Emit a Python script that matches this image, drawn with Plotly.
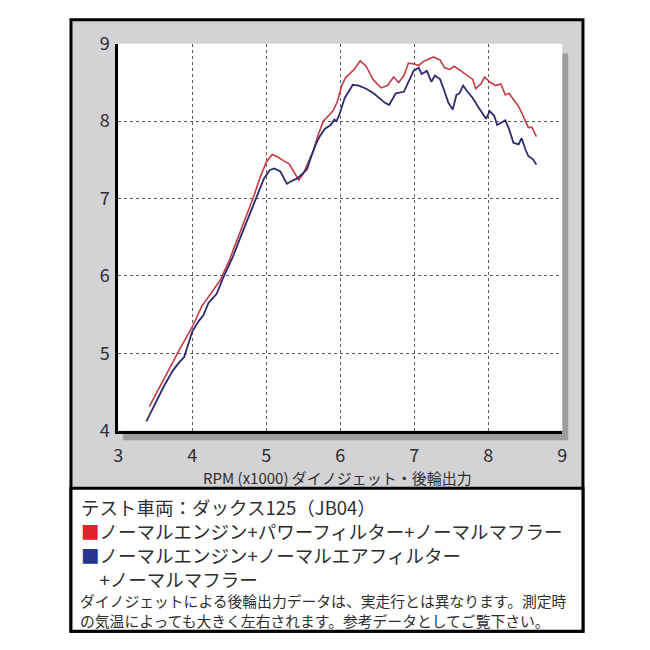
import plotly.graph_objects as go

# Dynojet rear-wheel output (PS) vs RPM (x1000)
red_rpm = [3.42, 3.55, 3.68, 3.80, 3.90, 4.00, 4.13, 4.25, 4.375, 4.50, 4.65, 4.82, 4.92, 5.00,
           5.08, 5.15, 5.23, 5.31, 5.37, 5.44, 5.50, 5.59, 5.64, 5.70, 5.77, 5.84, 5.90, 5.96,
           6.02, 6.07, 6.13, 6.19, 6.27, 6.35, 6.44, 6.55, 6.64, 6.72, 6.79, 6.86, 6.92, 7.00,
           7.06, 7.12, 7.17, 7.26, 7.35, 7.41, 7.48, 7.54, 7.63, 7.72, 7.79, 7.83, 7.90, 7.95,
           8.03, 8.10, 8.17, 8.23, 8.28, 8.34, 8.41, 8.45, 8.50, 8.54, 8.59, 8.65]
red_power = [4.31, 4.55, 4.78, 5.00, 5.17, 5.34, 5.61, 5.78, 5.94, 6.20, 6.57, 7.00, 7.28, 7.47,
             7.57, 7.54, 7.49, 7.45, 7.35, 7.24, 7.32, 7.51, 7.63, 7.82, 8.00, 8.07, 8.13, 8.25,
             8.46, 8.56, 8.61, 8.67, 8.78, 8.71, 8.54, 8.43, 8.46, 8.57, 8.50, 8.59, 8.75, 8.74,
             8.72, 8.77, 8.79, 8.83, 8.79, 8.69, 8.67, 8.71, 8.65, 8.59, 8.54, 8.42, 8.48, 8.57,
             8.50, 8.46, 8.48, 8.34, 8.36, 8.28, 8.19, 8.11, 7.99, 7.92, 7.92, 7.80]

blue_rpm = [3.38, 3.50, 3.62, 3.74, 3.82, 3.89, 4.00, 4.09, 4.15, 4.22, 4.33, 4.42, 4.55, 4.66,
            4.76, 4.86, 4.97, 5.05, 5.11, 5.19, 5.28, 5.33, 5.42, 5.50, 5.55, 5.60, 5.66, 5.72,
            5.79, 5.87, 5.92, 5.95, 5.99, 6.06, 6.17, 6.25, 6.35, 6.45, 6.53, 6.60, 6.66, 6.70,
            6.75, 6.86, 6.92, 6.99, 7.06, 7.10, 7.17, 7.23, 7.28, 7.35, 7.41, 7.46, 7.52, 7.57,
            7.61, 7.66, 7.72, 7.79, 7.86, 7.92, 7.97, 8.02, 8.08, 8.12, 8.19, 8.23, 8.28, 8.34,
            8.41, 8.45, 8.50, 8.54, 8.60, 8.65]
blue_power = [4.12, 4.35, 4.58, 4.78, 4.88, 4.95, 5.28, 5.42, 5.49, 5.65, 5.77, 5.98, 6.25, 6.52,
              6.76, 7.00, 7.26, 7.37, 7.39, 7.35, 7.19, 7.22, 7.26, 7.33, 7.38, 7.52, 7.68, 7.80,
              7.90, 7.95, 8.02, 8.00, 8.09, 8.30, 8.47, 8.46, 8.42, 8.36, 8.30, 8.24, 8.21, 8.28,
              8.36, 8.38, 8.50, 8.65, 8.69, 8.61, 8.65, 8.51, 8.59, 8.54, 8.38, 8.24, 8.15, 8.34,
              8.36, 8.46, 8.38, 8.30, 8.19, 8.11, 8.03, 8.13, 8.07, 7.95, 7.99, 8.01, 7.90, 7.72,
              7.70, 7.78, 7.64, 7.55, 7.51, 7.44]

x_ticks = [3, 4, 5, 6, 7, 8, 9]
y_ticks = [4, 5, 6, 7, 8, 9]

x_title = 'RPM (x1000) ダイノジェット・後輪出力'
vehicle = 'テスト車両：ダックス125（JB04）'
red_label = 'ノーマルエンジン+パワーフィルター+ノーマルマフラー'
blue_label = ['ノーマルエンジン+ノーマルエアフィルター', '+ノーマルマフラー']
note = ['ダイノジェットによる後輪出力データは、実走行とは異なります。測定時',
        'の気温によっても大きく左右されます。参考データとしてご覧下さい。']

W = H = 650
FONT = 'Noto Sans CJK JP'
TXT = '#2e2e2e'
RED_KEY = '#e0232b'
BLUE_KEY = '#293591'


def px(x):
    return x / W


def py(y):
    return 1 - y / H


fig = go.Figure()

fig.add_trace(go.Scatter(x=red_rpm, y=red_power, mode='lines',
                         line=dict(color='#c53c44', width=1.6), hoverinfo='skip'))
fig.add_trace(go.Scatter(x=blue_rpm, y=blue_power, mode='lines',
                         line=dict(color='#2a2c6c', width=1.8), hoverinfo='skip'))


def rect(x0, y0, x1, y1, fill, line_color=None, line_width=0):
    return dict(type='rect', xref='paper', yref='paper', layer='below',
                x0=px(x0), x1=px(x1), y0=py(y1), y1=py(y0),
                fillcolor=fill,
                line=dict(color=line_color or fill, width=line_width))


shapes = [
    rect(67, 5, 587, 642, '#d3d3d5', 'black', 3),   # outer frame, gray
    rect(67, 493, 587, 642, 'white', 'black', 3),   # legend panel
    rect(120, 40, 572, 443, '#9d9d9f'),             # drop shadow
    rect(115, 30, 566, 433, 'white'),               # plot area
]

key_text = '<br>'.join([
    vehicle,
    f'<span style="color:{RED_KEY}">■</span>{red_label}',
    f'<span style="color:{BLUE_KEY}">■</span>{blue_label[0]}',
    '\u3000' + blue_label[1],
])

annotations = [
    dict(text=x_title, x=px(338), y=py(482), xanchor='center', font=dict(size=15)),
    dict(text=key_text, x=px(75), y=py(497), xanchor='left', yanchor='top',
         align='left', font=dict(size=18.5)),
    dict(text=note[0], x=px(74), y=py(610), xanchor='left', font=dict(size=14.8)),
    dict(text=note[1], x=px(74), y=py(631), xanchor='left', font=dict(size=14.8)),
]
for a in annotations:
    a.update(xref='paper', yref='paper', showarrow=False)
    a.setdefault('yanchor', 'middle')
    a['font'].update(family=FONT, color=TXT)

grid = dict(showgrid=True, griddash='dot', gridcolor='#5a5a5a', gridwidth=1)

fig.update_layout(
    width=W, height=H,
    margin=dict(l=0, r=0, t=0, b=0),
    paper_bgcolor='white',
    plot_bgcolor='rgba(0,0,0,0)',
    showlegend=False,
    hovermode=False,
    font=dict(family=FONT, color=TXT),
    shapes=shapes,
    annotations=annotations,
    xaxis=dict(
        domain=[px(115), px(566)], range=[3, 9],
        tickvals=x_ticks, showgrid=False, zeroline=False,
        showline=True, linecolor='black', linewidth=3,
        ticks='outside', ticklen=7, tickcolor='rgba(0,0,0,0)',
        tickfont=dict(size=18, color=TXT),
        minor=dict(tickvals=[4, 5, 6, 7, 8], **grid),
    ),
    yaxis=dict(
        domain=[py(433), py(30)], range=[4, 9],
        tickvals=y_ticks, showgrid=False, zeroline=False,
        showline=True, linecolor='black', linewidth=3,
        ticks='outside', ticklen=2, tickcolor='rgba(0,0,0,0)',
        tickfont=dict(size=18, color=TXT),
        minor=dict(tickvals=[5, 6, 7, 8], **grid),
    ),
)

# pin the chart to the top-left corner of the page
page_fix = """
var de = document.documentElement, b = document.body;
de.style.margin = '0'; de.style.padding = '0'; de.style.overflow = 'hidden';
b.style.margin = '0'; b.style.padding = '0'; b.style.overflow = 'hidden';
var gd = document.getElementsByClassName('plotly-graph-div')[0];
gd.style.position = 'fixed'; gd.style.top = '0px'; gd.style.left = '0px';
"""

fig.write_html('out.html', config={'displayModeBar': False}, post_script=page_fix)
